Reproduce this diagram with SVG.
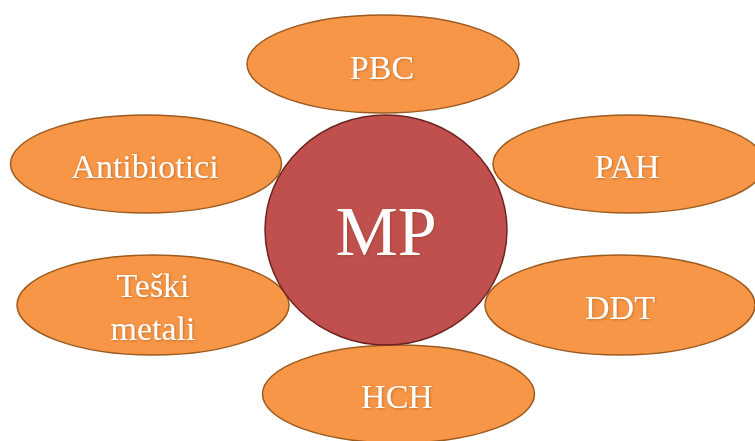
<svg xmlns="http://www.w3.org/2000/svg" width="755" height="441" viewBox="0 0 755 441">
<defs>
<style>
.leaf{fill:#f79646;stroke:#9c5a1f;stroke-width:1.5}
.hub{fill:#c0504d;stroke:#6e2321;stroke-width:1.5}
.lbl{font-family:"Liberation Serif","Times New Roman",serif;font-size:34px;fill:#ffffff;text-anchor:middle;filter:url(#sh)}
.big{font-size:70px}
</style>
<filter id="sh" x="-20%" y="-20%" width="140%" height="140%">
<feDropShadow dx="0.8" dy="0.8" stdDeviation="0.8" flood-color="#7a3a10" flood-opacity="0.45"/>
</filter>
</defs>
<rect width="755" height="441" fill="#ffffff"/>
<g id="connectors"></g>
<g id="pbc"><ellipse class="leaf" cx="383" cy="64" rx="136" ry="49"/><text class="lbl" x="382" y="79">PBC</text></g>
<g id="antibiotici"><ellipse class="leaf" cx="146" cy="164" rx="135.5" ry="49"/><text class="lbl" x="145" y="178">Antibiotici</text></g>
<g id="pah"><ellipse class="leaf" cx="629" cy="164" rx="136" ry="49"/><text class="lbl" x="627" y="178">PAH</text></g>
<g id="teski"><ellipse class="leaf" cx="153" cy="305" rx="136" ry="50"/><text class="lbl" x="153" y="297">Teški</text><text class="lbl" x="153" y="340">metali</text></g>
<g id="ddt"><ellipse class="leaf" cx="620" cy="305" rx="135" ry="50"/><text class="lbl" x="620" y="319">DDT</text></g>
<g id="hch"><ellipse class="leaf" cx="398.5" cy="394" rx="136" ry="49"/><text class="lbl" x="397" y="408">HCH</text></g>
<g id="mp"><ellipse class="hub" cx="386" cy="230" rx="121" ry="115"/><text class="lbl big" x="386" y="255">MP</text></g>
</svg>
